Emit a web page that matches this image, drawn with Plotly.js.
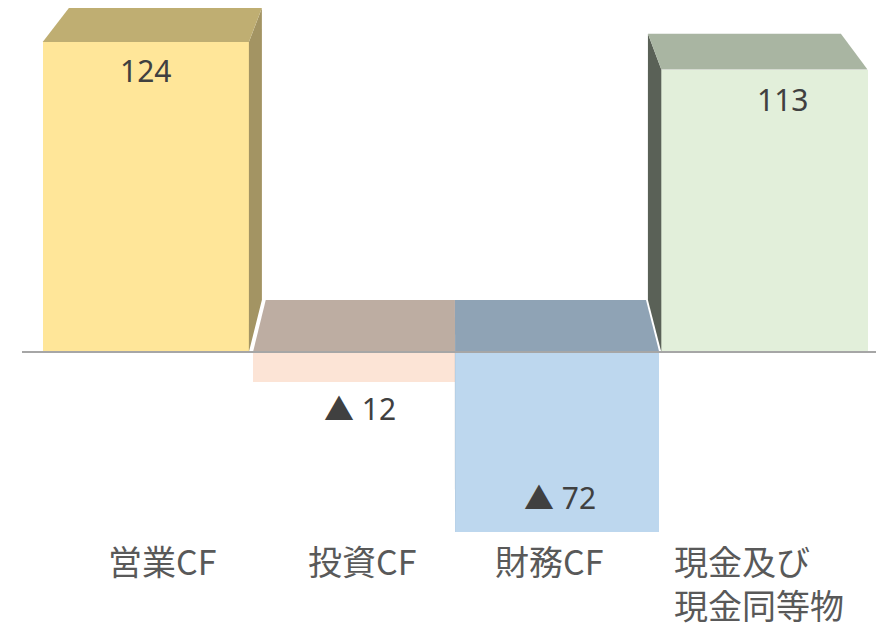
<!DOCTYPE html>
<html>
<head>
<meta charset="utf-8">
<script src="https://cdn.plot.ly/plotly-3.0.1.min.js"></script>
<style>html,body{margin:0;padding:0;background:#fff;}#chart{width:884px;height:623px;}</style>
</head>
<body>
<div id="chart"></div>
<script>
// ---- data ----
const categories = ['営業CF', '投資CF', '財務CF', '現金及び<br>現金同等物'];
const values = [124, -12, -72, 113];
const valueLabels = values.map(v => v < 0 ? '▲ ' + Math.abs(v) : String(v));

// ---- style ----
const frontColors = ['#FFE699', '#FCE4D6', '#BDD7EE', '#E2EFDA'];
const topColors   = ['#BFAE72', '#BDADA2', '#8FA3B5', '#A9B5A2'];
const sideColors  = ['#A39463', '#A8998F', '#7D8FA0', '#5A6157'];
const barWidths  = [1.0, 0.98, 0.99, 1.0];
const barOffsets = [-0.5, -0.48, -0.5, -0.5];
// perspective: back face = VP + s * (front - VP)  (data units)
const VP = {x: 1.485, y: 358.8};
const S = {x: 0.936, y: 0.942};
const valueLabelShift = [{x: 0, y: -28}, {x: 8, y: -26}, {x: 2, y: 35}, {x: 18, y: -30}];
const catLabelShift = [{x: 16, a: 'center'}, {x: 10, a: 'center'}, {x: -9, a: 'center'}, {x: -92, a: 'left'}];

const xs = categories.map((_, i) => i);

function back(x, y) {
  return [VP.x + S.x * (x - VP.x), VP.y + S.y * (y - VP.y)];
}
function poly(pts) {
  return 'M ' + pts.map(p => p[0] + ',' + p[1]).join(' L ') + ' Z';
}

const sideShapes = [];
const topShapes = [];
values.forEach((v, i) => {
  const L = i + barOffsets[i];
  const R = L + barWidths[i];
  const top = Math.max(0, v);
  const bot = Math.min(0, v);
  topShapes.push({
    type: 'path', xref: 'x', yref: 'y', layer: 'above',
    path: poly([[L, top], [R, top], back(R, top), back(L, top)]),
    fillcolor: topColors[i], line: {width: 0}
  });
  let sx = null;
  if (R < VP.x) sx = R; else if (L > VP.x) sx = L;
  if (sx !== null) {
    sideShapes.push({
      type: 'path', xref: 'x', yref: 'y', layer: 'above',
      path: poly([[sx, top], back(sx, top), back(sx, bot), [sx, bot]]),
      fillcolor: sideColors[i], line: {width: 0}
    });
  }
});

const baseline = {
  type: 'line', xref: 'paper', yref: 'y', x0: 0, x1: 1, y0: 0, y1: 0,
  line: {color: '#A6A6A6', width: 2}, layer: 'above'
};

const trace = {
  type: 'bar',
  x: xs,
  y: values,
  width: barWidths,
  offset: barOffsets,
  marker: {color: frontColors, line: {width: 0}},
  hoverinfo: 'skip'
};

const annotations = [];
values.forEach((v, i) => {
  annotations.push({
    x: i, y: v, xref: 'x', yref: 'y',
    text: valueLabels[i], showarrow: false,
    xshift: valueLabelShift[i].x, yshift: valueLabelShift[i].y,
    font: {family: 'Noto Sans, Noto Sans CJK JP, sans-serif', size: 30, color: '#404040'}
  });
  annotations.push({
    x: i, y: 0, xref: 'x', yref: 'y',
    text: categories[i], showarrow: false,
    xanchor: catLabelShift[i].a, yanchor: 'top', align: 'left',
    xshift: catLabelShift[i].x, yshift: -182,
    font: {family: 'Noto Sans CJK JP, sans-serif', size: 34, color: '#595959'}
  });
});

const layout = {
  width: 884, height: 623,
  margin: {l: 22, r: 8, t: 0, b: 0},
  paper_bgcolor: '#ffffff', plot_bgcolor: '#ffffff',
  showlegend: false,
  bargap: 0,
  xaxis: {type: 'linear', range: [-0.6004, 3.5412], showgrid: false, zeroline: false,
          showticklabels: false, ticks: '', showline: false},
  yaxis: {range: [-108.4, 140.8], showgrid: false, zeroline: false,
          showticklabels: false, ticks: '', showline: false},
  shapes: sideShapes.concat(topShapes, [baseline]),
  annotations: annotations
};

Plotly.newPlot('chart', [trace], layout, {displayModeBar: false, staticPlot: true});
</script>
</body>
</html>
